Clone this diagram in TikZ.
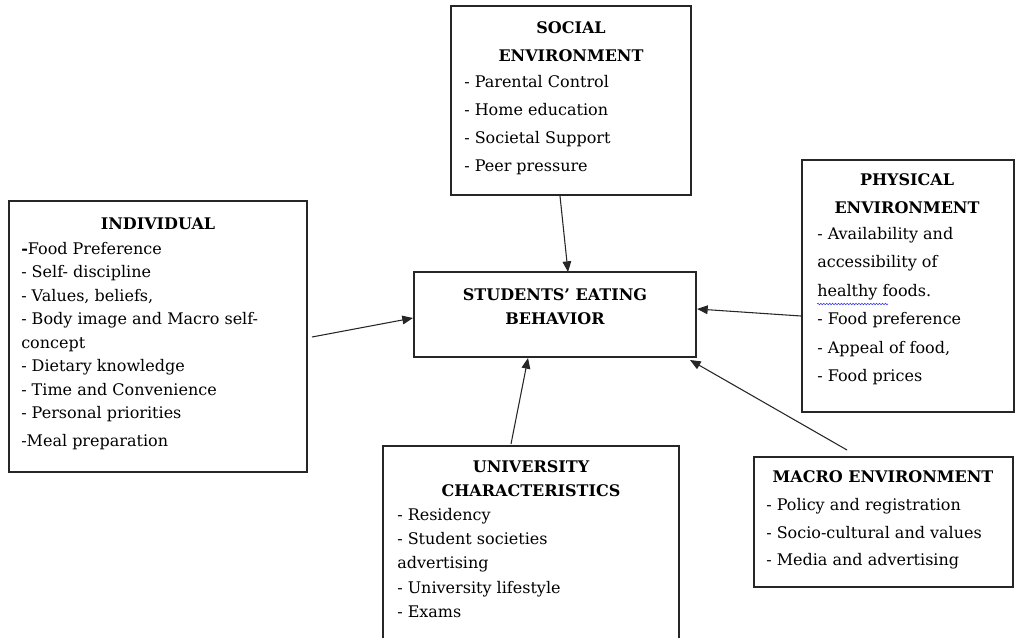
\documentclass[tikz,border=0pt]{standalone}
\usepackage{fontspec}
\setmainfont{DejaVu Serif}
\usetikzlibrary{arrows.meta,decorations.pathmorphing}
\begin{document}
\begin{tikzpicture}[x=0.75pt,y=-0.75pt,
  box/.style={draw=black!85,line width=0.9pt,inner sep=0pt,outer sep=0pt},
  ttl/.style={font=\fontsize{12}{21}\selectfont\bfseries,align=center,inner sep=0pt,anchor=north},
  itm/.style={align=left,inner sep=0pt,anchor=north west},
  arr/.style={draw=black!85,line width=0.8pt,-{Triangle[length=8pt,width=6.5pt]}}]
\useasboundingbox (0,0) rectangle (1016,638);
% boxes
\node[inner sep=0pt,minimum width=180pt,minimum height=141.75pt] (soc) at (571,100.5) {};
\node[inner sep=0pt,minimum width=223.5pt,minimum height=203.25pt] (ind) at (158,336.5) {};
\node[inner sep=0pt,minimum width=211.5pt,minimum height=63.75pt] (ctr) at (555,314.5) {};
\node[inner sep=0pt,minimum width=159pt,minimum height=189pt] (phy) at (908,286) {};
\node[inner sep=0pt,minimum width=222pt,minimum height=144pt] (uni) at (531,542) {};
\node[inner sep=0pt,minimum width=194.25pt,minimum height=97.5pt] (mac) at (883.5,522) {};
\draw[box] (451,6) rectangle (691,195);
\draw[box] (9,201) rectangle (307,472);
\draw[box] (414,272) rectangle (696,357);
\draw[box] (802,160) rectangle (1014,412);
\draw[box] (383,640) -- (383,446) -- (679,446) -- (679,640);
\draw[box] (754,457) rectangle (1013,587);
% texts
\node[ttl] (socT) at (571,21) {SOCIAL\\ENVIRONMENT};
\node[itm,font=\fontsize{12}{21}\selectfont] (socI) at (464,75) {- Parental Control\\- Home education\\- Societal Support\\- Peer pressure};
\node[ttl] (indT) at (158,218) {INDIVIDUAL};
\node[itm,font=\fontsize{12}{17.6}\selectfont] (indI) at (21,242) {\textbf{-}Food Preference\\- Self- discipline\\- Values, beliefs,\\- Body image and Macro self-\\concept\\- Dietary knowledge\\- Time and Convenience\\- Personal priorities\\[3.5pt]-Meal preparation};
\node[ttl,font=\fontsize{12}{18}\selectfont\bfseries] (ctrT) at (555,288) {STUDENTS’ EATING\\BEHAVIOR};
\node[ttl] (phyT) at (907,173) {PHYSICAL\\ENVIRONMENT};
\node[itm,font=\fontsize{12}{21.3}\selectfont] (phyI) at (817,227) {- Availability and\\accessibility of\\healthy foods.\\- Food preference\\- Appeal of food,\\- Food prices};
\node[ttl,font=\fontsize{12}{18}\selectfont\bfseries] (uniT) at (531,460) {UNIVERSITY\\CHARACTERISTICS};
\node[itm,font=\fontsize{12}{18.2}\selectfont] (uniI) at (397,508) {- Residency\\- Student societies\\advertising\\- University lifestyle\\- Exams};
\node[ttl] (macT) at (883,470) {MACRO ENVIRONMENT};
\node[itm,font=\fontsize{12}{20.8}\selectfont] (macI) at (766,498) {- Policy and registration\\- Socio-cultural and values\\- Media and advertising};
\draw[blue!80,line width=0.4pt,decorate,decoration={snake,segment length=2.2pt,amplitude=0.6pt}] (817,304) -- (888,304);
% arrows
\coordinate (s0) at (560,196); \coordinate (s1) at (568,272);
\coordinate (i0) at (312,337); \coordinate (i1) at (413,318);
\coordinate (p0) at (801,316); \coordinate (p1) at (697,309);
\coordinate (u0) at (511,444); \coordinate (u1) at (528,358);
\coordinate (m0) at (847,450); \coordinate (m1) at (690,360);
\draw[arr] (s0) -- (s1);
\draw[arr] (i0) -- (i1);
\draw[arr] (p0) -- (p1);
\draw[arr] (u0) -- (u1);
\draw[arr] (m0) -- (m1);
\end{tikzpicture}
\end{document}
